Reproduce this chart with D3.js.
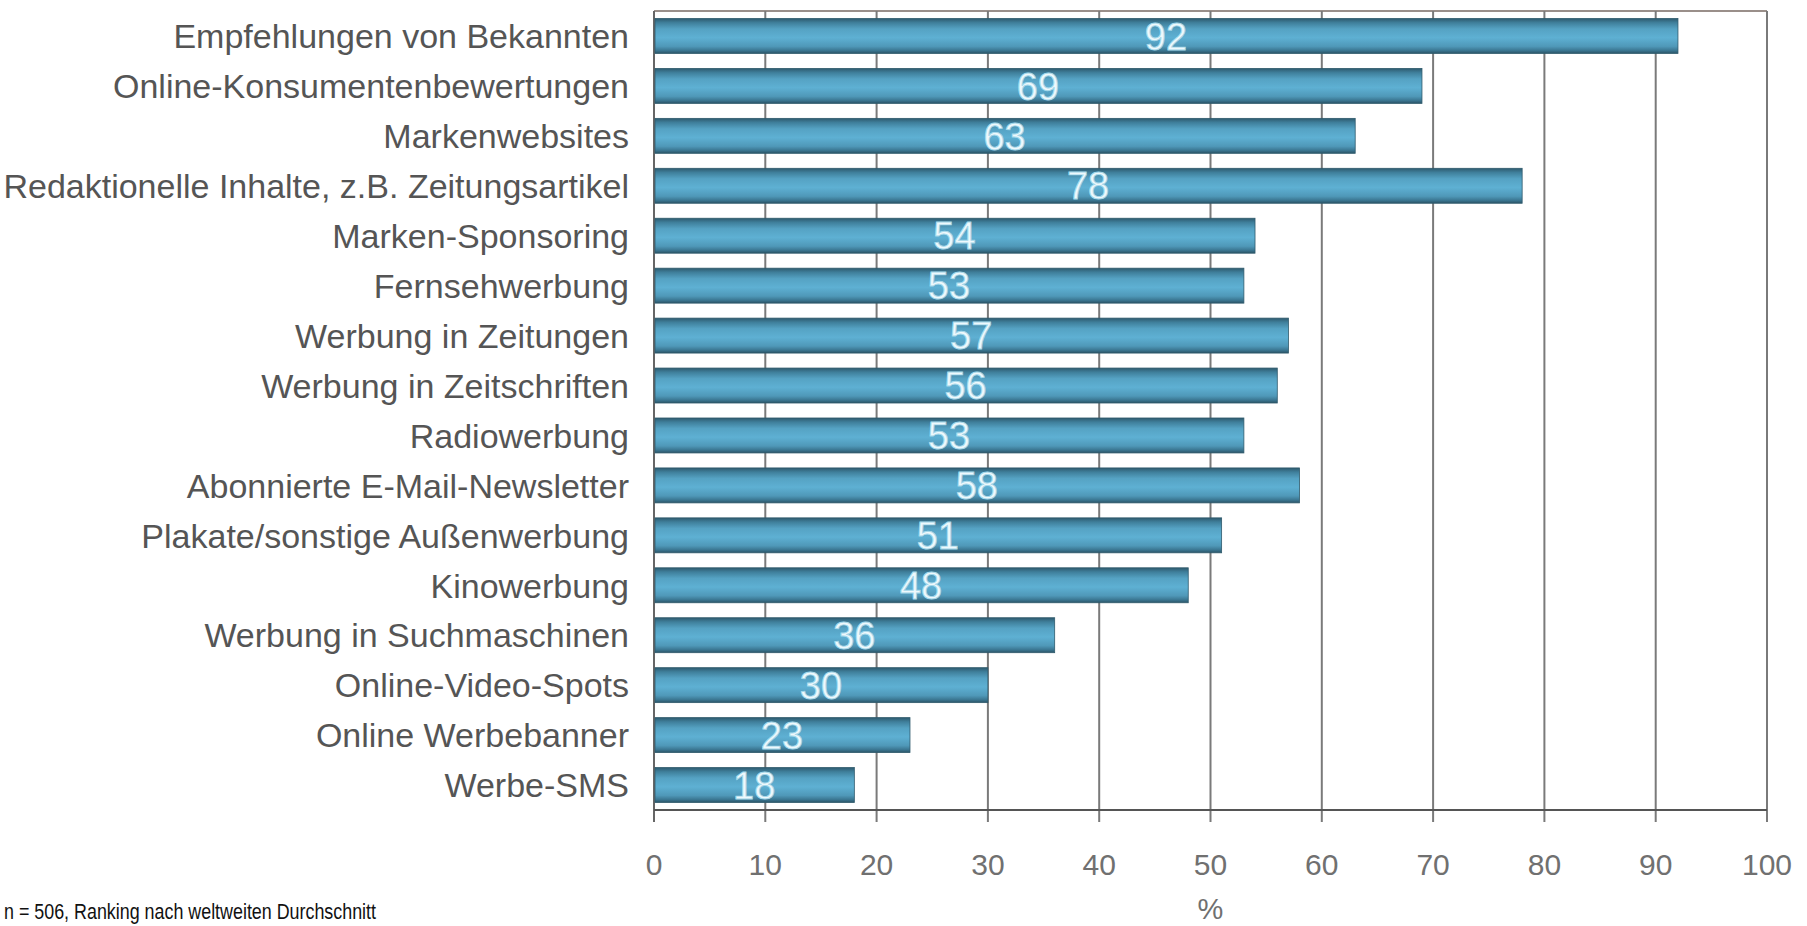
<!DOCTYPE html>
<html>
<head>
<meta charset="utf-8">
<script src="https://cdn.jsdelivr.net/npm/d3@7"></script>
<style>
  html, body { margin: 0; padding: 0; background: #ffffff; }
  svg { display: block; }
</style>
</head>
<body>
<svg id="chart" width="1807" height="926"></svg>
<script>
// Information sources and how far they are trusted (share of respondents, %)
const categories = [
  "Empfehlungen von Bekannten",
  "Online-Konsumentenbewertungen",
  "Markenwebsites",
  "Redaktionelle Inhalte, z.B. Zeitungsartikel",
  "Marken-Sponsoring",
  "Fernsehwerbung",
  "Werbung in Zeitungen",
  "Werbung in Zeitschriften",
  "Radiowerbung",
  "Abonnierte E-Mail-Newsletter",
  "Plakate/sonstige Außenwerbung",
  "Kinowerbung",
  "Werbung in Suchmaschinen",
  "Online-Video-Spots",
  "Online Werbebanner",
  "Werbe-SMS"
];
const values = [92, 69, 63, 78, 54, 53, 57, 56, 53, 58, 51, 48, 36, 30, 23, 18];
const xTicks = [0, 10, 20, 30, 40, 50, 60, 70, 80, 90, 100];
const axisTitle = "%";
const footnote = "n = 506, Ranking nach weltweiten Durchschnitt";

const svg = d3.select("#chart");
const plot = { left: 654, right: 1767, top: 11, bottom: 810 };

const x = d3.scaleLinear().domain([0, 100]).range([plot.left, plot.right]);
const y = d3.scaleBand().domain(categories).range([plot.top, plot.bottom])
  .paddingInner(0.3).paddingOuter(0.15);

// cylinder-like shading of the bars
const defs = svg.append("defs");
const grad = defs.append("linearGradient").attr("id", "barGrad")
  .attr("x1", 0).attr("y1", 0).attr("x2", 0).attr("y2", 1);
[[0, "#2e5a6e"], [0.12, "#3f7f9b"], [0.3, "#55a2c3"], [0.55, "#5eb0d3"],
 [0.8, "#4f98b8"], [0.92, "#3a7590"], [1, "#2b5466"]]
  .forEach(([o, c]) => grad.append("stop").attr("offset", o).attr("stop-color", c));

// frame: top border
svg.append("line")
  .attr("x1", plot.left).attr("x2", plot.right)
  .attr("y1", plot.top).attr("y2", plot.top)
  .attr("stroke", "#9a8f8a").attr("stroke-width", 2);

// vertical grid lines with ticks below the axis
svg.append("g").selectAll("line").data(xTicks).join("line")
  .attr("x1", d => x(d)).attr("x2", d => x(d))
  .attr("y1", plot.top).attr("y2", plot.bottom + 12)
  .attr("stroke", d => d === 0 ? "#666" : "#7a7a7a")
  .attr("stroke-width", 2);

// bars
svg.append("g").selectAll("rect").data(values).join("rect")
  .attr("x", x(0) + 1)
  .attr("y", (d, i) => y(categories[i]))
  .attr("width", d => x(d) - x(0) - 1)
  .attr("height", y.bandwidth())
  .attr("fill", "url(#barGrad)")
  .attr("stroke", "#2f5a6c").attr("stroke-width", 0.8);

// x axis baseline
svg.append("line")
  .attr("x1", plot.left).attr("x2", plot.right)
  .attr("y1", plot.bottom).attr("y2", plot.bottom)
  .attr("stroke", "#555").attr("stroke-width", 2);

// value labels centred in each bar
svg.append("g").selectAll("text").data(values).join("text")
  .attr("x", d => (x(0) + x(d)) / 2)
  .attr("y", (d, i) => y(categories[i]) + y.bandwidth() / 2)
  .attr("dy", "0.36em")
  .attr("text-anchor", "middle")
  .attr("font-family", "Liberation Sans, Arial, sans-serif")
  .attr("font-size", 38)
  .attr("fill", "#eef9fd")
  .attr("stroke", "#a6d8ea").attr("stroke-width", 0.9)
  .text(d => d);

// category labels
svg.append("g").selectAll("text").data(categories).join("text")
  .attr("x", plot.left - 25)
  .attr("y", d => y(d) + y.bandwidth() / 2)
  .attr("dy", "0.36em")
  .attr("text-anchor", "end")
  .attr("font-family", "Liberation Sans, Arial, sans-serif")
  .attr("font-size", 34)
  .attr("fill", "#555")
  .text(d => d);

// tick labels
svg.append("g").selectAll("text").data(xTicks).join("text")
  .attr("x", d => x(d))
  .attr("y", 875)
  .attr("text-anchor", "middle")
  .attr("font-family", "Liberation Sans, Arial, sans-serif")
  .attr("font-size", 30)
  .attr("fill", "#707070")
  .text(d => d);

// axis title
svg.append("text")
  .attr("x", (x(0) + x(100)) / 2)
  .attr("y", 919)
  .attr("text-anchor", "middle")
  .attr("font-family", "Liberation Sans, Arial, sans-serif")
  .attr("font-size", 29)
  .attr("fill", "#707070")
  .text(axisTitle);

// sample note
svg.append("text")
  .attr("x", 4)
  .attr("y", 919)
  .attr("font-family", "Liberation Sans, Arial, sans-serif")
  .attr("font-size", 22)
  .attr("textLength", 372)
  .attr("lengthAdjust", "spacingAndGlyphs")
  .attr("fill", "#111")
  .text(footnote);
</script>
</body>
</html>
